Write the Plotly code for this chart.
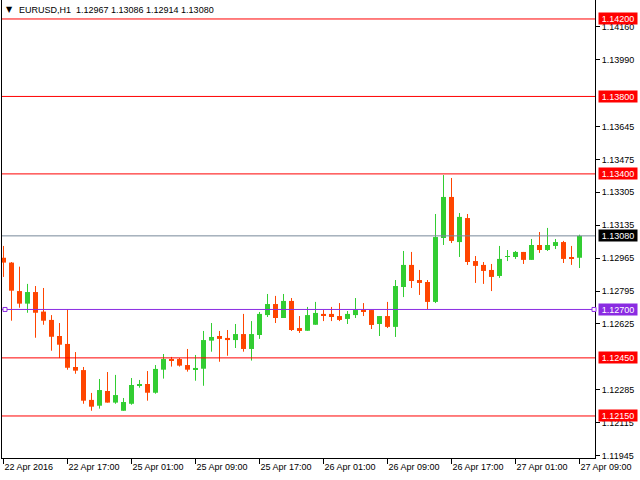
import plotly.graph_objects as go

# ---- data (EURUSD H1) ----
opens = [1.12967, 1.12942, 1.12795, 1.12730, 1.12790, 1.12689, 1.12646, 1.12563, 1.12522, 1.12403,
         1.12387, 1.12233, 1.12203, 1.12279, 1.12219, 1.12177, 1.12213, 1.12306, 1.12315, 1.12270,
         1.12389, 1.12444, 1.12444, 1.12413, 1.12389, 1.12394, 1.12539, 1.12563, 1.12553, 1.12542,
         1.12573, 1.12496, 1.12568, 1.12671, 1.12728, 1.12656, 1.12744, 1.12604, 1.12590, 1.12621,
         1.12677, 1.12677, 1.12666, 1.12651, 1.12671, 1.12696, 1.12697, 1.12625, 1.12666, 1.12610,
         1.12816, 1.12930, 1.12852, 1.12842, 1.12739, 1.13069, 1.13281, 1.13048, 1.13172, 1.12950,
         1.12930, 1.12904, 1.12873, 1.12971, 1.12971, 1.12997, 1.12956, 1.13033, 1.13007, 1.13028,
         1.13048, 1.12971, 1.12967]
highs = [1.13028, 1.12945, 1.12921, 1.12832, 1.12821, 1.12811, 1.12671, 1.12630, 1.12701, 1.12480,
         1.12403, 1.12269, 1.12341, 1.12377, 1.12362, 1.12243, 1.12346, 1.12336, 1.12382, 1.12413,
         1.12470, 1.12455, 1.12449, 1.12496, 1.12465, 1.12589, 1.12630, 1.12589, 1.12594, 1.12625,
         1.12677, 1.12640, 1.12687, 1.12780, 1.12770, 1.12780, 1.12759, 1.12666, 1.12713, 1.12739,
         1.12697, 1.12713, 1.12733, 1.12692, 1.12759, 1.12733, 1.12697, 1.12666, 1.12739, 1.12852,
         1.13002, 1.12997, 1.12904, 1.12852, 1.13193, 1.13394, 1.13379, 1.13198, 1.13193, 1.12976,
         1.12945, 1.12935, 1.13028, 1.13007, 1.13002, 1.12997, 1.13064, 1.13100, 1.13121, 1.13064,
         1.13054, 1.13028, 1.13086]
lows = [1.12868, 1.12642, 1.12709, 1.12683, 1.12554, 1.12621, 1.12487, 1.12449, 1.12389, 1.12368,
        1.12213, 1.12177, 1.12188, 1.12219, 1.12213, 1.12177, 1.12208, 1.12296, 1.12229, 1.12265,
        1.12343, 1.12405, 1.12405, 1.12379, 1.12332, 1.12306, 1.12482, 1.12430, 1.12461, 1.12501,
        1.12482, 1.12436, 1.12548, 1.12661, 1.12630, 1.12656, 1.12589, 1.12579, 1.12590, 1.12621,
        1.12640, 1.12640, 1.12640, 1.12625, 1.12656, 1.12666, 1.12599, 1.12563, 1.12604, 1.12558,
        1.12764, 1.12811, 1.12775, 1.12702, 1.12733, 1.13033, 1.13043, 1.12971, 1.12930, 1.12837,
        1.12832, 1.12795, 1.12863, 1.12950, 1.12961, 1.12935, 1.12956, 1.12992, 1.13002, 1.13012,
        1.12940, 1.12930, 1.12914]
closes = [1.12942, 1.12797, 1.12730, 1.12790, 1.12683, 1.12642, 1.12559, 1.12518, 1.12399, 1.12384,
          1.12229, 1.12198, 1.12284, 1.12219, 1.12258, 1.12222, 1.12310, 1.12315, 1.12270, 1.12393,
          1.12444, 1.12436, 1.12410, 1.12389, 1.12398, 1.12542, 1.12558, 1.12548, 1.12542, 1.12573,
          1.12496, 1.12573, 1.12677, 1.12728, 1.12656, 1.12744, 1.12594, 1.12589, 1.12671, 1.12682,
          1.12671, 1.12661, 1.12646, 1.12677, 1.12697, 1.12692, 1.12620, 1.12666, 1.12610, 1.12821,
          1.12930, 1.12847, 1.12837, 1.12739, 1.13074, 1.13281, 1.13054, 1.13178, 1.12945, 1.12925,
          1.12899, 1.12868, 1.12961, 1.12976, 1.12997, 1.12956, 1.13033, 1.13007, 1.13033, 1.13048,
          1.12961, 1.12961, 1.13080]

tick_index = [0, 8, 16, 24, 32, 40, 48, 56, 64, 72]
tick_labels = ["22 Apr 2016", "22 Apr 17:00", "25 Apr 01:00", "25 Apr 09:00", "25 Apr 17:00",
               "26 Apr 01:00", "26 Apr 09:00", "26 Apr 17:00", "27 Apr 01:00", "27 Apr 09:00"]
price_ticks = [1.14160, 1.13990, 1.13645, 1.13475, 1.13305, 1.13135, 1.12965,
               1.12795, 1.12625, 1.12285, 1.12115, 1.11945]
red_levels = [1.14200, 1.13800, 1.13400, 1.12450, 1.12150]
purple_level = 1.12700
bid_level = 1.13080
header = "EURUSD,H1  1.12967 1.13086 1.12914 1.13080"

# ---- styles ----
BULL = "#32CD32"
BEAR = "#FF4500"
RED = "#FF0000"
PURPLE = "#8A2BE2"
GREY = "#778899"
FONT = "Liberation Sans, Arial, sans-serif"

n = len(opens)
xs = list(range(n))
bull = [c >= o for o, c in zip(opens, closes)]
colors = [BULL if b else BEAR for b in bull]

fig = go.Figure()

# wicks
for flag, col in ((True, BULL), (False, BEAR)):
    wx, wy = [], []
    for i in xs:
        if bull[i] == flag:
            wx += [i, i, None]
            wy += [lows[i], highs[i], None]
    fig.add_trace(go.Scatter(x=wx, y=wy, mode="lines", line=dict(color=col, width=1),
                             hoverinfo="skip", showlegend=False))

# bodies
min_body = 0.00005
bases = [min(o, c) for o, c in zip(opens, closes)]
heights = [max(abs(c - o), min_body) for o, c in zip(opens, closes)]
fig.add_trace(go.Bar(x=xs, y=heights, base=bases, width=0.625,
                     marker=dict(color=colors, line=dict(width=0)),
                     showlegend=False, hoverinfo="skip"))

shapes = []
annotations = []

def level(price, color, box, txtcolor="white"):
    shapes.append(dict(type="line", xref="paper", x0=0, x1=1, yref="y", y0=price, y1=price,
                       line=dict(color=color, width=1), layer="above"))
    annotations.append(dict(xref="paper", x=1, xanchor="left", xshift=3, yref="y", y=price,
                            yanchor="middle", text=f"{price:.5f}", showarrow=False,
                            bgcolor=box, borderpad=0, width=38, height=11,
                            font=dict(family=FONT, size=9, color=txtcolor)))

for lv in red_levels:
    level(lv, RED, RED)
level(purple_level, PURPLE, PURPLE)
level(bid_level, GREY, "#000000")

# small hollow squares marking the purple level at both edges
for xa in (0, 1):
    shapes.append(dict(type="rect", xref="paper", xanchor=xa, xsizemode="pixel",
                       x0=(1 if xa == 0 else -3), x1=(5 if xa == 0 else 1),
                       yref="y", yanchor=purple_level, ysizemode="pixel", y0=-2, y1=2,
                       line=dict(color=PURPLE, width=1), fillcolor="white", layer="above"))

# header
annotations.append(dict(xref="paper", yref="paper", x=0, y=1, xanchor="left", yanchor="top",
                        xshift=2, yshift=-3, text="▼", showarrow=False,
                        font=dict(family="DejaVu Sans", size=8, color="black")))
annotations.append(dict(xref="paper", yref="paper", x=0, y=1, xanchor="left", yanchor="top",
                        xshift=15, yshift=-3, text=header, showarrow=False,
                        font=dict(family=FONT, size=9, color="black")))

fig.update_layout(
    width=640, height=480,
    margin=dict(l=2, r=45, t=0, b=22),
    paper_bgcolor="white", plot_bgcolor="white",
    barmode="overlay", showlegend=False,
    shapes=shapes, annotations=annotations,
    font=dict(family=FONT, size=9, color="black"),
    xaxis=dict(range=[-0.1875, 73.9375], showgrid=False, zeroline=False,
               showline=True, linecolor="black", linewidth=1,
               ticks="outside", ticklen=5, tickcolor="black",
               tickvals=tick_index, ticktext=tick_labels,
               ticklabelposition="outside right", ticklabeloverflow="allow",
               tickfont=dict(family=FONT, size=9, color="black")),
    yaxis=dict(range=[1.11933, 1.14298], side="right", showgrid=False, zeroline=False,
               showline=True, mirror=True, linecolor="black", linewidth=1,
               ticks="outside", ticklen=4, tickcolor="black",
               tickvals=price_ticks, ticktext=[f"{p:.5f}" for p in price_ticks],
               tickfont=dict(family=FONT, size=9, color="black")),
)

fig.write_html("out.html")
